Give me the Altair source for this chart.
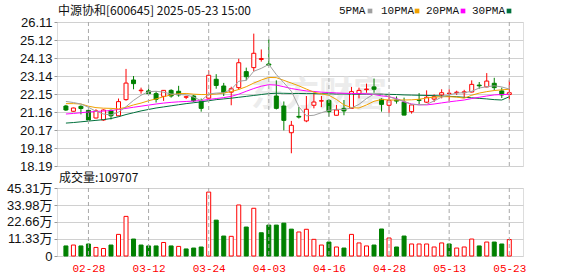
import altair as alt
import pandas as pd

# ---------------- data ----------------
dates = ["02-25", "02-26", "02-27", "02-28",
         "03-03", "03-04", "03-05", "03-06", "03-07", "03-10", "03-11", "03-12", "03-13", "03-14",
         "03-17", "03-18", "03-19", "03-20", "03-21", "03-24", "03-25", "03-26", "03-27", "03-28", "03-31",
         "04-01", "04-02", "04-03", "04-07", "04-08", "04-09", "04-10", "04-11", "04-14", "04-15", "04-16",
         "04-17", "04-18", "04-21", "04-22", "04-23", "04-24", "04-25", "04-28", "04-29", "04-30",
         "05-06", "05-07", "05-08", "05-09", "05-12", "05-13", "05-14", "05-15", "05-16", "05-19",
         "05-20", "05-21", "05-22", "05-23"]

opens = [21.49, 21.20, 21.47, 21.25, 20.83, 20.72, 21.25, 20.95, 21.84, 22.92,
         22.33, 22.32, 22.17, 22.02, 22.35, 22.30, 21.97, 22.04, 21.74, 21.92,
         22.96, 22.59, 22.25, 22.50, 23.38, 23.60, 24.05, 23.80, 22.04, 21.49,
         20.02, 20.92, 20.67, 21.53, 21.76, 21.80, 20.98, 21.36, 21.36, 22.17,
         22.39, 22.54, 21.86, 21.53, 21.82, 21.70, 21.18, 21.83, 21.70, 21.87,
         22.10, 22.18, 22.23, 22.22, 22.26, 22.64, 22.54, 22.74, 22.32, 22.12]
highs = [21.55, 21.40, 21.53, 21.30, 21.31, 21.30, 21.30, 21.90, 23.53, 23.14,
         22.50, 22.66, 22.30, 22.36, 22.41, 22.60, 22.06, 22.10, 21.90, 23.45,
         23.24, 22.76, 22.55, 24.09, 23.60, 25.47, 24.60, 25.16, 22.90, 21.74,
         20.67, 21.43, 22.04, 22.22, 22.04, 21.86, 21.55, 21.82, 22.54, 22.50,
         22.72, 23.00, 21.91, 22.13, 22.02, 21.95, 21.58, 22.20, 22.35, 22.13,
         22.41, 22.41, 22.33, 22.38, 22.90, 22.81, 23.30, 23.04, 22.50, 22.90]
lows = [21.22, 21.18, 21.03, 20.67, 20.81, 20.68, 20.75, 20.93, 21.78, 22.41,
        22.17, 22.13, 21.68, 21.77, 21.95, 22.00, 21.87, 21.70, 21.18, 21.90,
        22.44, 22.04, 21.53, 22.37, 22.90, 23.40, 23.93, 23.70, 21.30, 20.15,
        18.89, 20.80, 20.60, 21.36, 21.43, 20.90, 20.97, 20.98, 21.35, 21.91,
        22.22, 22.22, 21.18, 21.12, 21.62, 20.98, 21.07, 21.60, 21.66, 21.71,
        21.91, 21.77, 22.10, 21.96, 22.24, 22.44, 22.52, 22.35, 21.93, 21.86]
closes = [21.27, 21.38, 21.35, 20.72, 21.22, 21.27, 20.95, 21.73, 22.75, 22.72,
          22.36, 22.17, 21.86, 22.35, 22.04, 22.10, 22.00, 21.78, 21.36, 23.18,
          22.62, 22.23, 22.44, 23.87, 23.10, 24.39, 24.10, 23.74, 21.36, 20.70,
          20.43, 20.88, 21.31, 21.71, 21.78, 21.18, 21.27, 21.22, 22.28, 22.35,
          22.42, 22.41, 21.58, 21.80, 21.76, 20.99, 21.55, 21.80, 21.97, 22.00,
          22.22, 22.19, 22.25, 22.27, 22.68, 22.60, 22.86, 22.50, 22.10, 22.22]

ma5 = [21.74, 21.68, 21.60, 21.42, 21.20, 21.05, 21.00, 21.15, 21.45, 21.80,
       22.08, 22.28, 22.30, 22.25, 22.15, 22.12, 22.10, 21.98, 21.78, 22.15,
       22.20, 22.22, 22.40, 22.85, 22.90, 23.40, 23.56, 23.78, 23.22, 22.77,
       22.30, 21.45, 20.95, 20.98, 21.12, 21.25, 21.31, 21.30, 21.38, 21.58,
       21.90, 22.15, 22.17, 22.00, 21.86, 21.75, 21.58, 21.55, 21.58, 21.77,
       21.98, 22.10, 22.20, 22.22, 22.30, 22.48, 22.55, 22.60, 22.54, 22.42]
ma10 = [21.62, 21.62, 21.60, 21.48, 21.40, 21.37, 21.36, 21.33, 21.42, 21.55,
        21.65, 21.78, 21.88, 22.00, 22.10, 22.17, 22.18, 22.14, 22.12, 22.12,
        22.15, 22.20, 22.28, 22.40, 22.55, 22.75, 22.92, 23.06, 23.05, 22.90,
        22.75, 22.60, 22.42, 22.25, 22.15, 22.08, 21.85, 21.55, 21.40, 21.38,
        21.55, 21.75, 21.85, 21.82, 21.82, 21.82, 21.83, 21.86, 21.93, 21.98,
        22.00, 22.00, 21.98, 21.92, 22.08, 22.20, 22.28, 22.34, 22.38, 22.41]
ma20 = [21.05, 21.08, 21.12, 21.16, 21.19, 21.21, 21.24, 21.30, 21.36, 21.42,
        21.48, 21.54, 21.60, 21.65, 21.69, 21.72, 21.74, 21.76, 21.79, 21.85,
        21.90, 21.95, 22.02, 22.14, 22.30, 22.45, 22.58, 22.66, 22.64, 22.55,
        22.45, 22.38, 22.32, 22.29, 22.25, 22.23, 22.21, 22.19, 22.18, 22.17,
        22.16, 22.12, 22.05, 22.00, 21.90, 21.72, 21.60, 21.56, 21.55, 21.60,
        21.66, 21.72, 21.77, 21.82, 21.90, 21.97, 22.04, 22.10, 22.12, 22.13]
ma30 = [20.55, 20.58, 20.62, 20.66, 20.70, 20.74, 20.80, 20.90, 21.02, 21.12,
        21.22, 21.30, 21.38, 21.44, 21.50, 21.56, 21.62, 21.67, 21.72, 21.78,
        21.84, 21.88, 21.92, 21.97, 22.02, 22.07, 22.12, 22.17, 22.19, 22.19,
        22.18, 22.18, 22.17, 22.17, 22.16, 22.16, 22.15, 22.15, 22.14, 22.14,
        22.14, 22.14, 22.14, 22.13, 22.12, 22.10, 22.09, 22.08, 22.07, 22.06,
        22.04, 22.02, 22.00, 21.97, 21.94, 21.91, 21.88, 21.84, 21.82, 22.00]

volumes = [6.7, 7.3, 6.7, 8.0, 5.7, 5.0, 7.3, 14.4, 26.4, 11.3,
           7.3, 6.7, 6.7, 9.0, 6.7, 6.4, 4.7, 5.3, 6.0, 42.6,
           23.9, 13.3, 13.1, 34.0, 19.3, 31.8, 15.5, 20.6, 20.6, 21.9,
           17.9, 16.0, 17.8, 11.1, 7.3, 9.3, 6.0, 5.3, 14.4, 8.7,
           6.7, 7.3, 18.0, 12.0, 6.0, 13.3, 8.0, 8.0, 8.0, 6.0,
           8.7, 8.0, 5.3, 6.0, 11.3, 6.7, 9.3, 9.3, 8.0, 10.97]  # 万

tick_dates = ["02-28", "03-12", "03-24", "04-03", "04-16", "04-28", "05-13", "05-23"]
price_ticks = [18.19, 19.18, 20.17, 21.16, 22.15, 23.14, 24.13, 25.12, 26.11]
vol_ticks = [0, 11.33, 22.66, 33.98, 45.31]
ma_names = ["5PMA", "10PMA", "20PMA", "30PMA"]
ma_colors = ["#a0a0a0", "#f0a000", "#ff00ff", "#00703c"]
title_text = "中源协和[600645] 2025-05-23 15:00"
vol_title = "成交量:109707"
watermark = "东方财富"

# ---------------- tables ----------------
n = len(dates)
df = pd.DataFrame({"idx": range(n), "date": dates, "open": opens, "high": highs,
                   "low": lows, "close": closes, "vol": volumes,
                   "ma5": ma5, "ma10": ma10, "ma20": ma20, "ma30": ma30})
df["cdir"] = ["up" if c >= o else "down" for o, c in zip(opens, closes)]
df["vdir"] = ["down"] + ["up" if closes[i] >= closes[i - 1] else "down" for i in range(1, n)]

tick_idx = [dates.index(d) for d in tick_dates]
ticks_df = pd.DataFrame({"tpos": tick_idx, "tlabel": tick_dates})
label_expr = "{" + ",".join(f"'{i}':'{d}'" for i, d in zip(tick_idx, tick_dates)) + "}[''+datum.value]"

RED, GREEN = "#ff0000", "#008000"
W, HP, HV = 466, 144, 68
xscale = alt.Scale(domain=[-0.52, 60.16], nice=False, zero=False)
pscale = alt.Scale(domain=[price_ticks[0], price_ticks[-1]], nice=False, zero=False)
vscale = alt.Scale(domain=[0, vol_ticks[-1]], nice=False)

YFONT = "Liberation Sans, Noto Sans CJK SC"
GRIDV = "#a8a8a8"

x_price_axis = alt.Axis(values=tick_idx, labels=False, ticks=False, domain=False, grid=False, title=None)
p_axis = alt.Axis(values=price_ticks, format=".2f", grid=True, gridColor="#d0d0d0", domain=False,
                  ticks=True, tickSize=3, tickColor="#999", labelFont=YFONT, labelFontSize=13,
                  labelColor="#111", labelPadding=2, title=None)


def xp(field="idx"):
    return alt.X(f"{field}:Q", scale=xscale, axis=x_price_axis)


def yp(field):
    return alt.Y(f"{field}:Q", scale=pscale, axis=p_axis)


dir_fill = alt.Scale(domain=["up", "down"], range=["white", GREEN])
dir_stroke = alt.Scale(domain=["up", "down"], range=[RED, GREEN])

base = alt.Chart(df)

wm = alt.Chart(pd.DataFrame({"t": [watermark]})).mark_text(
    text=watermark, font="Noto Sans CJK SC", fontSize=34, fontWeight="bold", color="#ececec",
    align="center", baseline="middle").encode(x=alt.value(262), y=alt.value(74))

vgrid_p = alt.Chart(ticks_df).mark_rule(color=GRIDV, strokeDash=[4, 3], strokeWidth=1).encode(
    x=xp("tpos"), y=alt.value(0), y2=alt.value(HP))

wick = base.mark_rule(strokeWidth=1).encode(
    x=xp(), y=yp("low"), y2="high:Q",
    stroke=alt.Stroke("cdir:N", scale=dir_stroke, legend=None))

body = base.mark_bar(size=4, strokeWidth=1).encode(
    x=xp(), y=yp("open"), y2="close:Q",
    fill=alt.Fill("cdir:N", scale=dir_fill, legend=None),
    stroke=alt.Stroke("cdir:N", scale=dir_stroke, legend=None))

ma_layers = [
    base.mark_line(strokeWidth=1, color=col).encode(x=xp(), y=yp(field))
    for field, col in zip(["ma30", "ma20", "ma10", "ma5"], ma_colors[::-1])
]

title = alt.Chart(pd.DataFrame({"t": [title_text]})).mark_text(
    text=title_text, font="Noto Sans CJK SC", fontSize=12, color="#111",
    align="left", baseline="middle").encode(x=alt.value(1), y=alt.value(-11))

legend_layers = []
text_x = [282, 324, 369, 415]
sq_x = [313, 360, 406, 452]
for nm, col, tx, sx in zip(ma_names, ma_colors, text_x, sq_x):
    legend_layers.append(alt.Chart(pd.DataFrame({"t": [nm]})).mark_text(
        text=nm, font="Liberation Mono", fontSize=11, color="#111", align="left",
        baseline="middle").encode(x=alt.value(tx), y=alt.value(-11)))
    legend_layers.append(alt.Chart(pd.DataFrame({"t": [nm]})).mark_square(
        size=22, color=col, opacity=1, filled=True).encode(x=alt.value(sx), y=alt.value(-11)))

price = alt.layer(wm, wick, body, *ma_layers, vgrid_p, title, *legend_layers).properties(width=W, height=HP)

# ---------------- volume ----------------
x_vol_axis = alt.Axis(values=tick_idx, labelExpr=label_expr, ticks=False, domain=False, grid=False,
                      labelFont="Liberation Mono", labelFontSize=11, labelColor=RED, labelPadding=6,
                      title=None)
v_axis = alt.Axis(values=vol_ticks, labelExpr="datum.value == 0 ? '0' : format(datum.value, '.2f') + '万'",
                  grid=True, gridColor="#d0d0d0", domain=False, ticks=True, tickSize=3, tickColor="#999",
                  labelFont=YFONT, labelFontSize=13, labelColor="#111", labelPadding=2, title=None)


def xv(field="idx"):
    return alt.X(f"{field}:Q", scale=xscale, axis=x_vol_axis)


vgrid_v = alt.Chart(ticks_df).mark_rule(color=GRIDV, strokeDash=[4, 3], strokeWidth=1).encode(
    x=xv("tpos"), y=alt.value(0), y2=alt.value(HV))

vol_bars = base.mark_bar(size=4, strokeWidth=1).encode(
    x=xv(),
    y=alt.Y("vol:Q", scale=vscale, axis=v_axis),
    fill=alt.Fill("vdir:N", scale=dir_fill, legend=None),
    stroke=alt.Stroke("vdir:N", scale=dir_stroke, legend=None))

vtitle = alt.Chart(pd.DataFrame({"t": [vol_title]})).mark_text(
    text=vol_title, font="Noto Sans CJK SC", fontSize=12, color="#111",
    align="left", baseline="middle").encode(x=alt.value(2), y=alt.value(-10))

volume = alt.layer(vol_bars, vgrid_v, vtitle).properties(width=W, height=HV)

chart = alt.vconcat(price, volume, spacing=22, bounds="flush").resolve_scale(
    x="independent", y="independent", fill="independent", stroke="independent"
).properties(
    padding={"left": 5, "top": 4, "right": 0, "bottom": 0}
).configure_view(stroke="#999", strokeWidth=1).configure(background="white")

chart.save("out.html", embed_options={"renderer": "svg", "actions": False})
